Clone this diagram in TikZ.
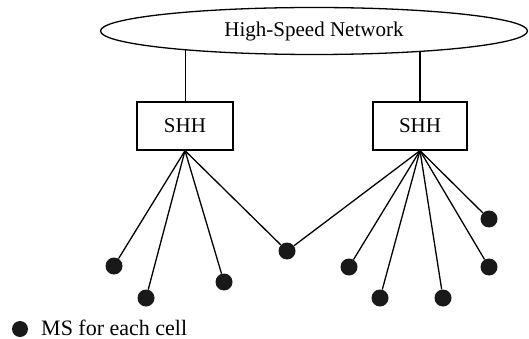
\documentclass[tikz,border=0pt]{standalone}
\usepackage{fontspec}
\setmainfont{Liberation Serif}
\usetikzlibrary{shapes.geometric,backgrounds}

\begin{document}
\begin{tikzpicture}[x=1pt,y=-1pt,font=\fontsize{21}{24}\selectfont,
 hub/.style={draw,line width=1.3pt,minimum height=48pt,inner sep=0pt},
 ms/.style={circle,fill=black!90,minimum size=17pt,inner sep=0pt},
 line/.style={line width=1.3pt}]
\useasboundingbox (0,0) rectangle (529,339);
\node[ellipse,draw,fill=white,line width=1.3pt,minimum width=427pt,minimum height=47pt,inner sep=0pt] (net) at (314,31) {High-Speed Network};
\node[hub,minimum width=96pt] (shhL) at (185,126) {SHH};
\node[hub,minimum width=94pt] (shhR) at (420,126) {SHH};
% mobile stations
\node[ms] (m1) at (114,266) {};
\node[ms] (m2) at (146,298) {};
\node[ms] (m3) at (224,282) {};
\node[ms] (m4) at (287,251) {};
\node[ms] (m5) at (349,267) {};
\node[ms] (m6) at (380,298) {};
\node[ms] (m7) at (443,298) {};
\node[ms] (m8) at (489,267) {};
\node[ms] (m9) at (489,219) {};
% legend
\node[ms,minimum size=16pt] (key) at (20,329) {};
\node[anchor=base west,inner sep=0pt,font=\fontsize{22}{26}\selectfont] (keytext) at (41,335) {MS for each cell};
\begin{scope}[on background layer]
\draw[line width=1pt] (shhL.north)--(shhL.north |- net.center);
\draw[line width=1.6pt] (shhR.north)--(shhR.north |- net.center);
\end{scope}
\foreach \m in {m1,m2,m3,m4} \draw[line] (shhL.south)--(\m);
\foreach \m in {m4,m5,m6,m7,m8,m9} \draw[line] (shhR.south)--(\m);
\end{tikzpicture}
\end{document}
